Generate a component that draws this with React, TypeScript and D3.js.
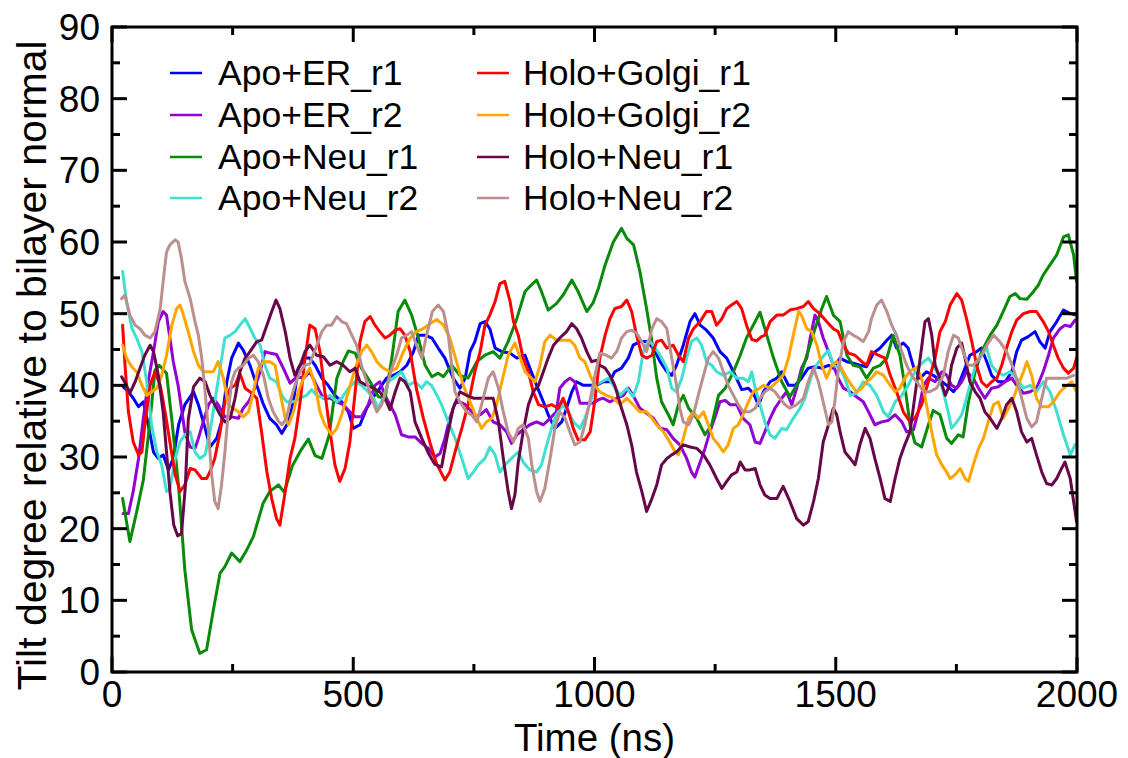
import React from "react";
import * as d3 from "d3";

const seriesNames = ["Apo+ER_r1", "Apo+ER_r2", "Apo+Neu_r1", "Apo+Neu_r2", "Holo+Golgi_r1", "Holo+Golgi_r2", "Holo+Neu_r1", "Holo+Neu_r2"];
const seriesColors = ["#0000ff", "#9400d3", "#0a8a0a", "#40e0d0", "#ff0000", "#ffa500", "#670748", "#bc8f8f"];

const xTicks = [0, 500, 1000, 1500, 2000];
const yTicks = [0, 10, 20, 30, 40, 50, 60, 70, 80, 90];

const apoErR1: [number, number][] = [[23,39.8],[34,39.1],[44,38.2],[55,37.0],[65,37.7],[75,34.5],[86,30.7],[96,29.8],[106,30.3],[117,28.2],[127,29.8],[138,34.5],[151,37.3],[169,39.1],[179,37.3],[193,34.0],[203,31.4],[217,32.6],[227,34.9],[238,40.5],[248,43.8],[262,45.9],[272,44.9],[286,42.8],[300,40.0],[314,37.3],[327,35.4],[341,34.5],[352,33.3],[366,34.9],[376,37.7],[386,42.4],[400,43.8],[410,43.8],[421,42.8],[435,41.0],[448,40.0],[462,38.6],[476,37.7],[490,36.3],[500,34.0],[514,34.5],[528,36.8],[542,38.4],[555,39.6],[569,41.0],[583,41.4],[597,41.9],[611,42.8],[625,44.7],[635,47.0],[649,47.0],[663,46.6],[676,45.2],[690,43.8],[707,41.0],[721,39.6],[732,41.0],[742,44.7],[752,46.1],[763,48.6],[773,48.9],[783,47.9],[794,45.2],[808,44.7],[825,44.5],[839,43.8],[856,44.2],[866,42.4],[880,40.0],[894,37.7],[904,35.9],[918,34.0],[932,34.9],[942,36.8],[953,39.1],[963,40.5],[977,40.0],[991,40.0],[1004,40.0],[1018,40.5],[1032,40.5],[1042,41.9],[1056,42.4],[1070,43.8],[1080,45.6],[1094,46.1],[1108,46.1],[1122,45.2],[1136,43.3],[1150,41.9],[1160,41.4],[1170,42.8],[1184,45.6],[1198,48.9],[1208,50.0],[1219,48.4],[1232,47.7],[1246,46.6],[1260,44.7],[1274,43.8],[1288,41.9],[1305,39.4],[1319,39.6],[1330,38.8],[1340,37.2],[1350,39.1],[1364,40.5],[1378,41.0],[1388,41.9],[1402,40.0],[1416,40.0],[1429,41.0],[1443,42.4],[1457,42.6],[1471,42.4],[1485,42.8],[1495,42.4],[1509,43.8],[1523,43.3],[1536,43.1],[1550,42.8],[1564,42.6],[1578,44.5],[1592,45.2],[1606,46.3],[1616,47.0],[1626,45.2],[1640,45.9],[1650,45.2],[1661,42.6],[1675,41.0],[1688,41.9],[1702,41.4],[1720,40.5],[1730,40.0],[1744,39.1],[1754,40.0],[1768,42.4],[1778,44.2],[1792,44.7],[1802,45.2],[1813,43.3],[1823,41.4],[1837,40.5],[1851,40.5],[1865,41.9],[1875,44.7],[1885,46.3],[1899,46.8],[1913,47.5],[1923,46.1],[1934,45.2],[1944,47.5],[1958,48.9],[1972,50.5],[1986,50.0],[1998,49.8]];

const apoErR2: [number, number][] = [[23,22.1],[34,22.1],[44,25.2],[55,29.8],[65,35.4],[75,40.5],[86,44.7],[96,48.9],[106,50.3],[113,49.8],[120,46.6],[127,43.3],[137,40.0],[144,36.8],[151,33.5],[162,31.4],[172,31.2],[179,32.6],[189,34.9],[200,37.3],[210,38.2],[220,37.3],[234,35.6],[248,35.6],[262,35.4],[272,36.8],[283,37.7],[293,39.1],[307,41.9],[317,44.7],[327,44.5],[341,44.3],[355,42.4],[369,40.3],[383,41.2],[397,41.0],[410,41.9],[424,40.0],[438,38.2],[452,38.2],[466,37.7],[479,37.3],[493,36.3],[504,35.6],[517,35.6],[531,37.3],[545,40.0],[555,40.5],[566,38.6],[576,37.3],[587,35.9],[600,33.1],[614,32.8],[628,32.8],[642,31.9],[656,31.2],[669,30.0],[680,30.5],[690,32.6],[700,35.4],[711,37.5],[721,37.7],[732,37.3],[742,36.6],[752,35.6],[763,35.9],[776,36.6],[790,34.9],[804,34.5],[818,33.5],[828,31.9],[839,33.1],[852,33.8],[866,34.5],[880,34.9],[894,34.5],[908,35.4],[921,36.3],[928,39.6],[939,40.5],[949,41.0],[959,40.5],[970,37.5],[984,37.5],[997,37.5],[1008,38.0],[1018,38.2],[1032,37.7],[1046,38.2],[1060,38.6],[1070,39.6],[1080,38.6],[1094,36.8],[1108,36.1],[1122,35.4],[1136,34.0],[1150,33.8],[1163,32.6],[1177,31.7],[1191,29.8],[1201,27.9],[1208,27.2],[1219,29.3],[1229,31.2],[1239,33.5],[1250,35.6],[1260,37.7],[1271,37.9],[1281,37.3],[1295,37.3],[1308,35.4],[1322,34.5],[1333,32.1],[1343,31.9],[1353,33.5],[1364,35.4],[1374,36.8],[1388,38.2],[1398,39.1],[1409,37.3],[1419,39.6],[1429,42.4],[1440,43.8],[1447,46.6],[1457,49.8],[1464,48.9],[1474,46.6],[1485,44.7],[1495,42.8],[1505,41.0],[1516,39.6],[1530,39.1],[1543,38.4],[1557,37.7],[1568,36.3],[1581,34.5],[1595,34.9],[1609,35.1],[1623,35.9],[1637,34.9],[1647,33.5],[1661,33.8],[1671,36.3],[1682,40.0],[1692,41.0],[1706,40.5],[1720,41.9],[1730,41.4],[1740,40.0],[1751,39.6],[1761,40.5],[1771,41.9],[1785,41.0],[1796,39.6],[1809,38.2],[1823,39.6],[1837,39.8],[1851,40.5],[1865,41.0],[1875,40.0],[1889,38.9],[1903,39.1],[1916,39.6],[1930,41.9],[1941,44.2],[1951,46.6],[1965,47.9],[1975,48.4],[1986,48.2],[1996,49.1]];

const apoNeuR1: [number, number][] = [[22,24.2],[37,18.2],[50,22.0],[65,26.8],[79,35.2],[89,42.1],[98,42.8],[113,41.7],[124,35.2],[138,25.9],[151,14.2],[165,5.9],[182,2.6],[196,3.1],[210,8.6],[224,13.8],[234,14.7],[248,16.6],[265,15.4],[279,17.0],[293,18.9],[313,23.5],[327,25.2],[345,26.1],[357,25.1],[374,28.8],[392,31.0],[407,32.5],[421,30.2],[435,29.8],[450,33.0],[466,41.0],[479,43.3],[490,44.8],[504,44.5],[517,42.4],[535,40.5],[552,38.4],[566,38.2],[580,43.8],[593,50.3],[607,51.9],[621,49.8],[635,46.6],[649,42.8],[663,41.2],[676,41.7],[687,41.2],[704,42.8],[721,41.4],[738,41.0],[756,43.3],[773,44.2],[790,44.7],[804,43.8],[821,46.1],[839,49.3],[856,53.1],[866,53.8],[880,54.7],[890,53.1],[904,50.5],[921,51.4],[935,52.6],[953,54.7],[966,53.1],[984,50.3],[997,51.5],[1008,53.5],[1022,56.8],[1039,60.0],[1056,61.9],[1067,60.5],[1081,59.6],[1094,55.9],[1108,50.7],[1119,46.1],[1129,41.0],[1139,37.7],[1153,35.9],[1163,34.5],[1174,37.3],[1184,38.6],[1195,36.8],[1212,35.4],[1229,33.1],[1243,34.5],[1257,38.6],[1271,39.6],[1288,41.9],[1302,44.2],[1315,46.6],[1329,48.4],[1343,50.2],[1357,47.0],[1371,43.8],[1388,40.5],[1405,38.4],[1423,40.5],[1440,44.2],[1457,47.9],[1471,50.7],[1481,52.4],[1495,49.8],[1509,48.9],[1523,44.2],[1536,42.8],[1550,42.6],[1564,41.0],[1578,42.4],[1592,42.8],[1606,43.8],[1619,47.0],[1633,44.2],[1643,40.0],[1654,34.5],[1664,32.0],[1678,31.4],[1692,34.5],[1702,36.5],[1716,35.9],[1730,32.6],[1740,31.9],[1754,33.1],[1764,32.8],[1775,37.7],[1789,41.9],[1802,44.7],[1820,47.0],[1834,48.4],[1847,50.3],[1861,52.4],[1872,52.8],[1882,52.1],[1896,52.0],[1910,53.1],[1920,54.0],[1930,55.4],[1944,56.8],[1958,58.2],[1972,60.7],[1982,61.0],[1993,58.2],[1999,54.5]];

const apoNeuR2: [number, number][] = [[22,55.9],[30,51.7],[41,48.0],[51,46.6],[62,44.7],[72,40.5],[82,34.5],[93,30.7],[103,28.9],[113,25.2],[120,25.6],[131,29.8],[141,32.1],[151,33.1],[162,33.5],[172,30.7],[182,29.8],[193,30.3],[203,33.5],[213,37.7],[224,42.4],[234,46.6],[245,47.0],[255,47.5],[265,48.4],[276,49.3],[286,48.0],[296,46.6],[307,45.6],[317,42.8],[327,41.0],[341,40.5],[352,38.6],[362,37.7],[376,37.7],[390,38.2],[403,38.6],[414,39.4],[424,38.6],[438,38.2],[452,38.6],[466,37.7],[476,38.2],[490,39.6],[504,40.5],[517,40.0],[531,39.1],[542,38.2],[552,36.8],[562,38.2],[573,40.5],[587,41.2],[600,41.9],[614,40.0],[628,40.5],[642,39.6],[652,40.5],[662,40.0],[672,38.8],[683,37.3],[697,34.9],[711,32.6],[725,29.8],[738,27.0],[749,27.9],[759,28.9],[773,29.8],[783,31.4],[794,30.3],[804,27.9],[814,28.9],[828,29.8],[842,30.7],[852,29.3],[866,28.2],[880,27.9],[890,28.9],[901,31.7],[911,34.0],[921,35.9],[935,37.3],[946,36.3],[956,34.9],[970,34.0],[980,35.4],[991,37.5],[1001,40.0],[1015,40.5],[1029,41.0],[1039,40.0],[1053,38.6],[1067,39.6],[1080,38.4],[1091,40.5],[1101,44.7],[1112,46.3],[1122,45.6],[1136,44.2],[1150,42.4],[1160,39.6],[1170,39.1],[1181,41.0],[1191,43.8],[1201,46.1],[1212,46.6],[1222,45.6],[1232,43.3],[1243,42.8],[1253,41.9],[1267,41.4],[1281,41.9],[1295,41.0],[1308,41.0],[1319,40.5],[1326,41.9],[1333,39.6],[1343,37.3],[1353,34.9],[1364,33.1],[1374,32.6],[1388,34.0],[1398,33.8],[1412,35.4],[1426,36.8],[1436,38.2],[1450,41.4],[1460,42.8],[1471,43.8],[1485,44.9],[1495,42.8],[1509,42.4],[1519,41.0],[1530,38.6],[1543,38.9],[1557,40.5],[1571,40.0],[1585,38.6],[1599,36.3],[1609,35.6],[1623,37.7],[1637,38.6],[1650,40.0],[1664,41.9],[1675,42.8],[1682,43.3],[1692,43.8],[1702,42.8],[1713,41.4],[1723,39.1],[1733,36.3],[1740,34.0],[1751,34.9],[1761,35.9],[1771,38.2],[1782,41.0],[1792,43.3],[1802,44.2],[1813,45.2],[1823,42.8],[1834,41.9],[1847,41.4],[1861,41.9],[1875,41.0],[1889,39.6],[1903,40.0],[1916,39.1],[1930,40.5],[1944,39.1],[1958,36.3],[1972,33.1],[1986,30.3],[1996,31.7]];

const holoGolgiR1: [number, number][] = [[22,48.4],[27,42.8],[34,36.3],[44,32.1],[55,30.3],[62,30.7],[68,34.5],[79,40.0],[89,41.9],[100,40.0],[110,36.3],[120,32.1],[131,27.5],[141,25.2],[151,26.1],[162,28.4],[172,28.2],[186,27.0],[196,27.0],[203,27.9],[213,29.8],[224,33.5],[234,37.7],[245,39.6],[255,40.0],[265,41.7],[276,39.6],[286,39.1],[300,38.2],[310,33.5],[321,27.9],[331,24.2],[341,21.4],[348,20.5],[359,25.2],[369,29.8],[379,32.6],[390,37.7],[400,43.8],[410,48.4],[421,47.9],[431,44.7],[441,39.1],[452,33.5],[462,28.9],[472,26.6],[483,28.4],[493,32.1],[504,39.1],[514,46.1],[524,48.9],[535,49.6],[545,48.4],[555,47.5],[566,46.6],[576,47.0],[587,47.7],[597,47.9],[607,47.0],[618,44.7],[631,39.5],[645,35.5],[659,32.0],[673,29.0],[690,26.8],[700,27.9],[711,30.7],[725,34.0],[738,37.3],[752,41.9],[763,44.7],[773,48.4],[783,49.8],[794,51.7],[804,54.2],[814,54.5],[825,51.7],[832,48.9],[842,47.0],[852,43.8],[863,41.9],[873,39.1],[884,37.3],[897,37.0],[911,37.3],[925,36.8],[935,38.2],[946,36.3],[956,34.0],[966,32.4],[980,32.4],[991,33.5],[1001,38.0],[1011,43.8],[1022,47.0],[1032,49.3],[1042,50.7],[1056,51.0],[1067,51.9],[1077,50.3],[1087,47.0],[1098,44.2],[1108,43.8],[1119,44.2],[1129,46.1],[1139,46.3],[1150,45.2],[1163,45.6],[1174,44.2],[1184,43.3],[1195,46.6],[1205,47.9],[1219,48.9],[1232,50.3],[1243,50.3],[1253,48.4],[1264,49.3],[1274,50.7],[1284,51.2],[1295,51.7],[1305,50.7],[1315,48.4],[1326,46.4],[1336,46.2],[1346,46.8],[1353,47.0],[1364,48.9],[1378,49.8],[1391,49.8],[1405,50.5],[1419,50.7],[1433,51.0],[1443,51.7],[1454,50.7],[1467,50.0],[1481,48.9],[1495,47.9],[1505,47.5],[1516,45.6],[1526,44.5],[1540,44.2],[1554,43.3],[1564,42.8],[1574,44.7],[1588,44.2],[1602,43.8],[1613,41.4],[1626,39.1],[1640,36.3],[1654,34.9],[1664,35.4],[1678,37.3],[1692,40.5],[1706,43.8],[1716,47.5],[1727,48.9],[1737,51.2],[1751,52.8],[1761,51.9],[1771,49.3],[1782,46.1],[1792,42.8],[1802,40.5],[1813,39.8],[1823,40.5],[1834,41.0],[1844,42.8],[1854,45.2],[1865,47.5],[1875,49.1],[1889,50.0],[1903,50.3],[1916,50.3],[1930,48.9],[1941,47.5],[1951,45.6],[1961,43.8],[1972,42.4],[1982,41.7],[1993,42.4],[1999,43.8]];

const holoGolgiR2: [number, number][] = [[22,45.6],[30,43.8],[41,42.6],[51,41.9],[62,40.0],[72,38.6],[82,39.1],[93,39.6],[103,41.4],[113,44.2],[124,48.4],[134,50.7],[141,51.2],[148,49.8],[158,47.5],[169,44.7],[179,42.8],[189,41.9],[200,41.9],[210,41.9],[220,43.3],[231,41.0],[241,37.3],[251,36.8],[262,36.3],[272,35.6],[283,36.3],[293,39.1],[303,42.4],[314,43.3],[327,43.3],[338,42.8],[348,39.1],[359,35.4],[366,34.5],[376,36.3],[386,39.1],[397,41.0],[410,42.4],[421,40.0],[431,36.3],[441,34.5],[455,33.1],[466,34.0],[476,35.9],[490,39.1],[504,42.4],[517,44.7],[528,45.6],[538,44.7],[549,43.3],[562,42.4],[576,41.9],[590,42.4],[604,44.7],[618,46.6],[631,47.5],[645,47.9],[659,48.6],[673,49.2],[687,48.4],[700,46.6],[714,43.3],[728,40.0],[742,37.7],[756,35.4],[766,34.0],[776,34.9],[787,35.4],[797,37.3],[808,40.5],[821,44.2],[835,45.9],[846,43.8],[856,41.9],[866,41.2],[877,40.5],[887,42.8],[897,46.1],[908,47.0],[921,46.3],[935,46.3],[949,46.3],[959,45.6],[970,43.8],[980,43.3],[991,41.4],[1001,40.0],[1011,39.1],[1025,38.6],[1039,38.2],[1053,37.3],[1067,38.2],[1080,37.3],[1094,36.3],[1108,36.3],[1119,35.4],[1129,34.5],[1143,33.5],[1156,32.1],[1167,30.7],[1174,30.3],[1184,32.6],[1195,35.4],[1205,36.3],[1215,35.4],[1226,36.3],[1236,34.5],[1246,32.6],[1257,31.7],[1267,30.7],[1277,31.7],[1288,34.0],[1298,34.5],[1308,35.9],[1319,37.7],[1329,39.1],[1340,39.5],[1350,40.0],[1364,39.6],[1378,40.5],[1391,41.4],[1402,43.8],[1412,47.0],[1423,50.3],[1429,49.8],[1440,47.9],[1450,47.5],[1461,45.6],[1471,42.8],[1481,41.0],[1492,42.8],[1502,43.3],[1512,42.4],[1523,41.0],[1533,40.0],[1543,39.1],[1554,39.6],[1564,40.5],[1574,41.0],[1585,41.9],[1599,41.4],[1613,40.0],[1623,39.1],[1633,39.6],[1643,41.0],[1654,42.0],[1668,42.5],[1678,41.0],[1688,37.3],[1699,33.5],[1709,30.3],[1720,28.9],[1730,27.9],[1737,27.0],[1747,27.5],[1758,28.4],[1768,27.0],[1775,26.6],[1785,28.9],[1796,31.2],[1806,32.6],[1816,34.9],[1827,37.3],[1837,37.7],[1847,35.4],[1858,36.8],[1868,38.2],[1878,40.0],[1889,41.9],[1896,43.3],[1906,41.4],[1916,38.2],[1927,37.0],[1941,37.0],[1951,37.7],[1965,39.1],[1979,40.0],[1989,40.5],[1999,39.1]];

const holoNeuR1: [number, number][] = [[20,41.2],[30,40.0],[37,38.9],[48,40.5],[58,42.4],[68,44.2],[79,45.6],[86,44.7],[96,41.4],[106,36.3],[113,30.7],[120,25.2],[128,20.5],[136,19.0],[144,19.3],[152,25.9],[158,35.2],[169,39.8],[182,41.0],[193,40.5],[203,38.6],[213,37.3],[224,35.9],[234,34.9],[245,35.4],[255,38.2],[265,41.9],[276,43.8],[286,44.7],[300,46.1],[310,46.3],[321,48.4],[331,50.3],[340,51.9],[348,50.7],[359,47.5],[369,43.8],[379,41.4],[390,42.8],[400,44.7],[410,45.6],[424,44.2],[438,44.0],[452,42.8],[466,43.3],[479,42.8],[493,41.9],[504,42.4],[514,40.5],[528,40.0],[542,39.6],[555,39.1],[569,37.7],[576,36.6],[587,39.1],[597,41.0],[607,40.5],[618,39.1],[628,34.9],[642,32.6],[656,30.5],[669,29.0],[683,28.6],[694,32.6],[707,36.8],[721,39.1],[735,38.6],[749,38.2],[763,38.2],[776,38.2],[790,38.2],[801,34.9],[811,29.8],[821,25.2],[828,22.8],[835,24.7],[842,29.3],[852,33.5],[863,37.3],[873,39.1],[884,40.0],[894,41.9],[904,43.8],[915,45.6],[928,46.6],[942,47.5],[953,48.6],[963,47.9],[973,46.6],[984,44.7],[994,43.3],[1004,43.5],[1011,42.8],[1022,42.4],[1032,41.4],[1042,40.0],[1056,36.8],[1067,34.5],[1077,31.7],[1087,27.9],[1098,25.2],[1108,22.4],[1119,24.2],[1129,26.1],[1139,28.9],[1150,29.8],[1160,30.3],[1170,30.7],[1184,31.7],[1198,31.4],[1212,31.2],[1226,30.3],[1239,28.9],[1253,27.0],[1264,25.6],[1274,26.6],[1284,27.5],[1295,27.9],[1302,29.3],[1312,28.2],[1322,28.2],[1333,28.4],[1343,26.1],[1353,24.7],[1364,24.2],[1378,24.2],[1391,25.9],[1405,23.8],[1419,21.4],[1433,20.5],[1443,21.0],[1454,23.8],[1464,27.0],[1474,32.1],[1485,34.5],[1495,36.8],[1502,35.9],[1509,33.5],[1519,30.7],[1530,29.8],[1540,28.9],[1550,31.7],[1561,34.0],[1571,32.6],[1581,29.8],[1592,27.0],[1602,24.2],[1613,23.8],[1623,27.0],[1633,29.8],[1643,31.7],[1654,33.5],[1664,38.5],[1675,43.8],[1685,48.9],[1692,49.3],[1699,47.0],[1706,42.8],[1716,41.0],[1727,38.6],[1733,39.6],[1740,42.8],[1751,45.2],[1761,45.9],[1768,43.8],[1778,40.5],[1789,39.1],[1799,38.2],[1809,36.3],[1820,35.4],[1834,34.0],[1844,35.4],[1854,37.3],[1865,38.2],[1875,36.3],[1885,33.5],[1896,32.1],[1906,32.6],[1916,30.3],[1927,27.9],[1937,26.3],[1948,26.1],[1958,27.0],[1968,28.4],[1975,29.3],[1986,27.0],[1993,23.8],[1999,21.0]];

const holoNeuR2: [number, number][] = [[20,52.1],[27,52.6],[37,49.8],[48,48.4],[58,47.9],[68,47.0],[79,46.6],[89,47.5],[100,50.7],[106,54.5],[113,58.6],[120,59.6],[131,60.3],[137,60.0],[144,57.7],[151,54.5],[162,52.1],[172,48.9],[179,47.0],[186,43.8],[193,39.1],[200,33.5],[206,27.9],[213,23.8],[220,22.8],[227,26.1],[234,30.7],[241,36.3],[248,40.5],[255,41.9],[262,42.4],[272,42.8],[283,43.8],[293,44.2],[303,43.3],[314,41.4],[324,38.2],[334,36.3],[345,35.0],[352,34.5],[362,35.4],[369,37.7],[379,40.0],[390,41.9],[400,42.8],[410,43.0],[424,45.5],[435,47.5],[445,48.4],[455,48.4],[466,49.6],[476,48.9],[486,48.6],[497,47.0],[507,45.6],[517,42.8],[528,40.5],[538,38.2],[549,36.3],[559,37.3],[569,39.6],[580,42.4],[590,44.2],[600,46.6],[611,47.0],[621,47.5],[631,45.6],[642,43.8],[652,47.0],[664,50.3],[676,51.2],[687,50.3],[697,47.0],[704,42.8],[711,39.1],[721,37.7],[735,36.3],[745,35.9],[756,34.9],[766,37.3],[780,41.0],[790,41.9],[801,39.6],[811,36.3],[821,33.5],[832,32.1],[842,34.0],[852,34.5],[863,32.6],[870,28.9],[880,25.2],[887,23.8],[897,25.6],[908,29.8],[918,34.0],[928,36.3],[939,35.4],[949,33.5],[959,31.7],[970,32.1],[980,34.5],[991,38.0],[1001,41.4],[1011,44.5],[1025,44.2],[1035,43.8],[1046,44.7],[1056,46.6],[1067,47.5],[1077,47.7],[1087,47.3],[1098,46.1],[1108,44.7],[1119,47.9],[1129,49.3],[1139,48.9],[1150,47.9],[1160,43.8],[1170,40.0],[1177,36.8],[1184,34.9],[1195,34.5],[1205,35.9],[1215,38.6],[1226,41.4],[1236,43.8],[1246,44.7],[1257,43.8],[1267,41.9],[1277,40.0],[1288,38.6],[1298,37.3],[1308,36.3],[1322,36.3],[1333,36.8],[1343,38.2],[1353,39.1],[1364,39.6],[1374,39.1],[1384,38.2],[1395,37.3],[1405,36.8],[1419,37.3],[1433,38.2],[1443,40.5],[1454,42.4],[1464,40.5],[1474,37.7],[1485,34.5],[1492,34.9],[1498,37.7],[1505,41.9],[1516,46.1],[1526,47.5],[1536,47.0],[1547,46.6],[1557,46.1],[1568,47.5],[1574,49.3],[1585,51.2],[1595,51.9],[1606,50.3],[1616,48.4],[1626,47.0],[1637,44.7],[1647,42.8],[1657,41.4],[1668,40.5],[1682,39.1],[1695,39.1],[1709,39.6],[1723,41.4],[1733,44.7],[1744,47.0],[1754,46.6],[1764,44.7],[1775,42.8],[1785,42.8],[1799,43.8],[1813,45.6],[1827,47.0],[1840,46.1],[1854,44.7],[1868,42.4],[1882,39.1],[1896,35.4],[1906,34.2],[1916,34.9],[1927,38.2],[1937,41.0],[1951,41.0],[1965,41.0],[1979,41.0],[1993,41.4]];

const seriesData = [apoErR1, apoErR2, apoNeuR1, apoNeuR2, holoGolgiR1, holoGolgiR2, holoNeuR1, holoNeuR2];

const W = 1128;
const H = 758;
const M = { left: 112, right: 1077, top: 27, bottom: 672 };
const FONT = "'Liberation Sans', Arial, Helvetica, sans-serif";

export default function App() {
  const x = d3.scaleLinear().domain([0, 2000]).range([M.left, M.right]);
  const y = d3.scaleLinear().domain([0, 90]).range([M.bottom, M.top]);
  const line = d3
    .line<[number, number]>()
    .x((d) => x(d[0]))
    .y((d) => y(d[1]))
    .curve(d3.curveLinear);

  const xMinor = d3.range(0, 2001, 250);
  const yMinor = d3.range(0, 91, 5);
  const legendRows = [73, 115, 157, 198];

  return (
    <svg
      width={W}
      height={H}
      style={{ position: "absolute", left: 0, top: 0, background: "#fff" }}
      fontFamily={FONT}
    >
      <defs>
        <clipPath id="plotClip">
          <rect x={M.left} y={M.top} width={M.right - M.left} height={M.bottom - M.top} />
        </clipPath>
      </defs>
      <rect x={0} y={0} width={W} height={H} fill="#fff" />

      <g clipPath="url(#plotClip)">
        {seriesData.map((s, i) => (
          <path
            key={i}
            d={line(s) || ""}
            fill="none"
            stroke={seriesColors[i]}
            strokeWidth={3}
            strokeLinejoin="round"
            strokeLinecap="round"
          />
        ))}
      </g>

      <rect
        x={M.left}
        y={M.top}
        width={M.right - M.left}
        height={M.bottom - M.top}
        fill="none"
        stroke="#000"
        strokeWidth={3}
      />

      {xMinor.map((t) => {
        const major = t % 500 === 0;
        const len = major ? 15 : 8;
        return (
          <g key={"xt" + t}>
            <line x1={x(t)} x2={x(t)} y1={M.bottom} y2={M.bottom - len} stroke="#000" strokeWidth={3} />
            <line x1={x(t)} x2={x(t)} y1={M.top} y2={M.top + len} stroke="#000" strokeWidth={3} />
          </g>
        );
      })}
      {yMinor.map((v) => {
        const major = v % 10 === 0;
        const len = major ? 15 : 8;
        return (
          <g key={"yt" + v}>
            <line x1={M.left} x2={M.left + len} y1={y(v)} y2={y(v)} stroke="#000" strokeWidth={3} />
            <line x1={M.right} x2={M.right - len} y1={y(v)} y2={y(v)} stroke="#000" strokeWidth={3} />
          </g>
        );
      })}

      {xTicks.map((t) => (
        <text key={"xl" + t} x={x(t)} y={M.bottom + 35} fontSize={37} textAnchor="middle" fill="#000">
          {t}
        </text>
      ))}
      {yTicks.map((v) => (
        <text key={"yl" + v} x={M.left - 12} y={y(v) + 13} fontSize={37} textAnchor="end" fill="#000">
          {v}
        </text>
      ))}

      <text x={(M.left + M.right) / 2} y={751} fontSize={38.5} textAnchor="middle" fill="#000">
        Time (ns)
      </text>
      <text
        transform={`translate(46, ${(M.top + M.bottom) / 2 + 16}) rotate(-90)`}
        fontSize={41}
        textAnchor="middle"
        fill="#000"
      >
        Tilt degree relative to bilayer normal
      </text>

      {seriesNames.map((name, i) => {
        const col = Math.floor(i / 4);
        const row = i % 4;
        const lx = col === 0 ? 170 : 477;
        const tx = col === 0 ? 218 : 523;
        const ly = legendRows[row];
        return (
          <g key={"lg" + i}>
            <line x1={lx} x2={lx + 32} y1={ly} y2={ly} stroke={seriesColors[i]} strokeWidth={2.5} />
            <text x={tx} y={ly + 12} fontSize={35.5} fill="#000">
              {name}
            </text>
          </g>
        );
      })}
    </svg>
  );
}
